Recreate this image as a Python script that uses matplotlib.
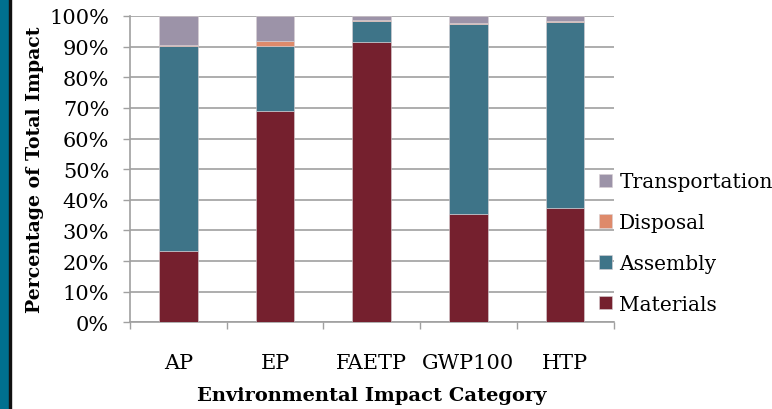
import numpy as np
import matplotlib.pyplot as plt
from matplotlib.patches import Rectangle

# data (percent of total impact)
categories = ['AP', 'EP', 'FAETP', 'GWP100', 'HTP']
materials = [23.4, 69.0, 91.6, 35.5, 37.2]
assembly = [66.9, 21.2, 6.9, 61.9, 60.9]
disposal = [0.3, 1.6, 0.3, 0.3, 0.4]
transportation = [9.4, 8.2, 1.2, 2.3, 1.5]

series = [('Materials', materials, '#75202E'),
          ('Assembly', assembly, '#3E7488'),
          ('Disposal', disposal, '#DE8A6B'),
          ('Transportation', transportation, '#9C93A8')]

plt.rcParams['font.family'] = ['DejaVu Serif']

fig = plt.figure(figsize=(7.72, 4.10), dpi=100)
ax = fig.add_axes([130/772, 1 - 323.3/410, 483.5/772, 306.3/410])

x = np.arange(len(categories))
bottom = np.zeros(len(categories))
handles = []
for name, vals, col in series:
    vals = np.array(vals)
    b = ax.bar(x, vals, 0.4, bottom=bottom, color=col, label=name,
               edgecolor='#d8d0d4', linewidth=0.4, zorder=3)
    handles.append(b)
    bottom = bottom + vals

ax.set_xlim(-0.5, 4.5)
ax.set_ylim(0, 100)
ax.set_yticks(np.arange(0, 101, 10))
ax.set_yticklabels([f'{v}%' for v in range(0, 101, 10)], fontsize=15)
ax.set_xticks(x)
ax.set_xticklabels(categories, fontsize=15)
ax.set_xticks(np.arange(-0.5, 5, 1), minor=True)
ax.tick_params(axis='x', which='major', length=0, pad=22)
ax.tick_params(axis='x', which='minor', length=5, width=1, color='#a0a0a0')
ax.tick_params(axis='y', length=5, width=1, color='#a0a0a0', pad=10)
ax.yaxis.grid(True, color='#a0a0a0', linewidth=1.2, zorder=0)
ax.set_axisbelow(True)
for s in ['top', 'right']:
    ax.spines[s].set_visible(False)
for s in ['left', 'bottom']:
    ax.spines[s].set_color('#a0a0a0')
    ax.spines[s].set_linewidth(1.2)

ax.set_xlabel('Environmental Impact Category', fontsize=14, fontweight='bold', labelpad=10)
ax.set_ylabel('Percentage of Total Impact', fontsize=13.6, fontweight='bold', labelpad=4)

leg = fig.legend(handles[::-1], [s[0] for s in series][::-1],
                 loc='center left', bbox_to_anchor=(581/772, 1 - 244/410),
                 frameon=False, fontsize=14.5, handlelength=0.65, handleheight=0.65,
                 handletextpad=0.35, labelspacing=1.08)

# dark band at the left edge
fig.patches.append(Rectangle((0, 0), 8.5/772, 1, transform=fig.transFigure,
                             color='#00708F', zorder=10))
fig.patches.append(Rectangle((8.5/772, 0), 2.5/772, 1, transform=fig.transFigure,
                             color='#111111', zorder=10))

fig.savefig('out.png', dpi=100)
